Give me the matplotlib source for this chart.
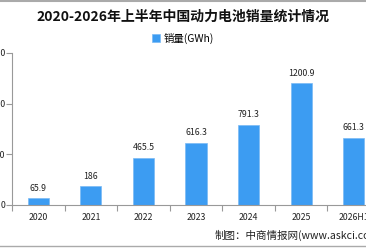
import numpy as np
import matplotlib.pyplot as plt

plt.rcParams['font.family'] = ['Noto Sans CJK SC', 'DejaVu Sans']

years = ["2020", "2021", "2022", "2023", "2024", "2025", "2026H1"]
sales = [65.9, 186, 465.5, 616.3, 791.3, 1200.9, 661.3]
yticks = [0, 500, 1000, 1500]

fig = plt.figure(figsize=(3.66, 2.48), dpi=100)
ax = fig.add_axes([12/366, 43/248, 368/366, 152/248])

x = np.arange(len(years))
bars = ax.bar(x, sales, width=0.4, color="#3c9cf2", edgecolor="#7ab9f5", linewidth=0.5,
              label="销量(GWh)")
for xi, v in zip(x, sales):
    ax.annotate(f"{v:g}", (xi, v), xytext=(0, 4), textcoords="offset points",
                ha="center", va="bottom", fontsize=6.3, color="#222222")

ax.set_xlim(-0.5, len(years) - 0.5)
ax.set_ylim(0, 1500)
ax.set_xticks(x)
ax.set_xticklabels(years, fontsize=6.3, color="#222222")
ax.set_xticks(np.arange(len(years) + 1) - 0.5, minor=True)
ax.tick_params(axis="x", which="major", length=0, pad=6)
ax.tick_params(axis="x", which="minor", length=4, color="#999999", width=0.8)
ax.set_yticks(yticks)
ax.set_yticklabels([str(t) for t in yticks], fontsize=6.3, color="#222222")
ax.tick_params(axis="y", length=4, color="#999999", width=0.8, pad=1)

for s in ["top", "right"]:
    ax.spines[s].set_visible(False)
for s in ["left", "bottom"]:
    ax.spines[s].set_color("#999999")
    ax.spines[s].set_linewidth(0.8)

fig.text(0.5, 1 - 17/248, "2020-2026年上半年中国动力电池销量统计情况", ha="center", va="center",
         fontsize=10, fontweight="bold", color="#111111")
fig.legend(handles=[bars], loc="center", bbox_to_anchor=(0.5, 1 - 38/248), frameon=False,
           fontsize=7.5, handlelength=0.8, handleheight=0.8, handletextpad=0.3)
fig.text(215/366, 1 - 235/248, "制图：中商情报网(www.askci.com)", ha="left", va="center",
         fontsize=7.6, color="#222222")

fig.add_artist(plt.Line2D([0, 1], [1 - 0.5/248, 1 - 0.5/248], color="#aaaaaa", lw=1.5))
fig.add_artist(plt.Line2D([0, 1], [2/248, 2/248], color="#aaaaaa", lw=1))

fig.savefig("out.png", dpi=100)
